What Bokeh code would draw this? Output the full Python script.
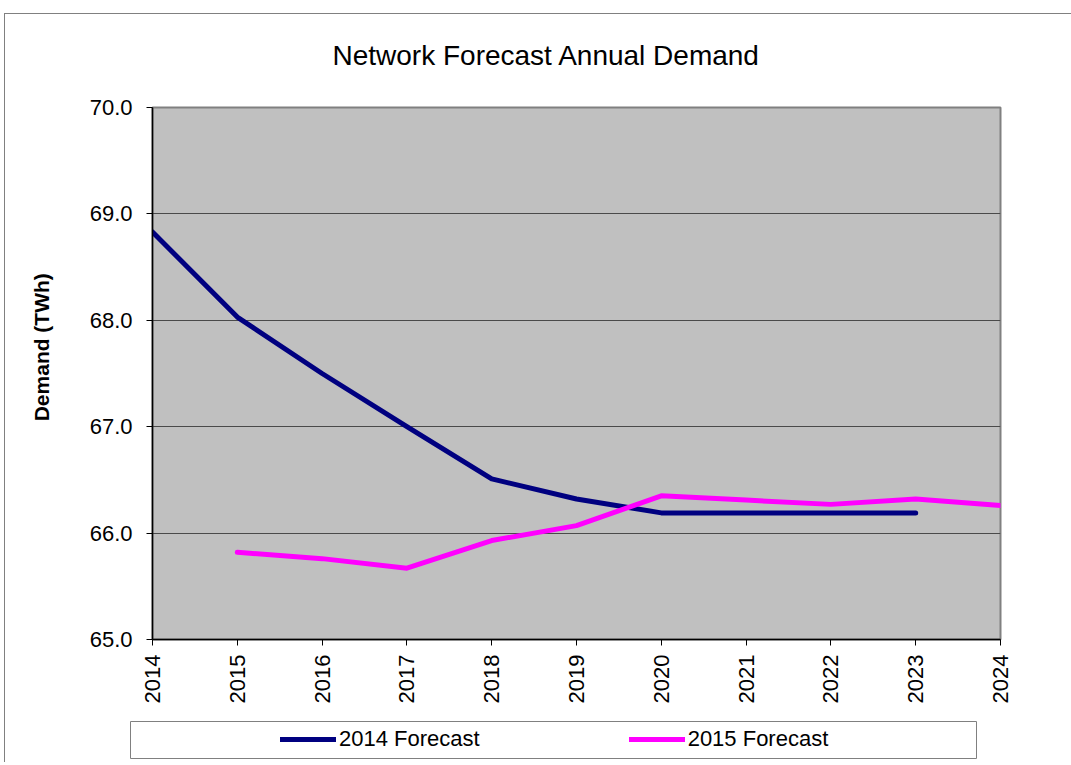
import math
from bokeh.plotting import figure
from bokeh.layouts import column, row
from bokeh.models import (Range1d, FixedTicker, NumeralTickFormatter, Legend,
                          LegendItem)
from bokeh.embed import file_html
from bokeh.resources import INLINE

# ---- data ----
years = [2014, 2015, 2016, 2017, 2018, 2019, 2020, 2021, 2022, 2023, 2024]
year_labels = ["2014", "2015", "2016", "2017", "2018", "2019", "2020",
               "2021", "2022", "2023", "2024"]
years_2014 = [2014, 2015, 2016, 2017, 2018, 2019, 2020, 2021, 2022, 2023]
forecast_2014 = [68.83, 68.03, 67.50, 67.00, 66.51, 66.32, 66.19, 66.19, 66.19, 66.19]
years_2015 = [2015, 2016, 2017, 2018, 2019, 2020, 2021, 2022, 2023, 2024]
forecast_2015 = [65.82, 65.76, 65.67, 65.93, 66.07, 66.35, 66.31, 66.27, 66.32, 66.26]
y_ticks = [65, 66, 67, 68, 69, 70]
series_names = ["2014 Forecast", "2015 Forecast"]
series_colors = ["#000080", "#FF00FF"]
title_text = "Network Forecast Annual Demand"
y_title = "Demand (TWh)"

FONT = "Liberation Sans"
W = 1071

p = figure(output_backend="svg", toolbar_location=None,
           frame_width=848, frame_height=532,
           min_border_left=152, min_border_right=W - 152 - 848,
           min_border_top=107, min_border_bottom=76,
           x_range=Range1d(2014, 2024), y_range=Range1d(65, 70),
           background_fill_color="#C0C0C0", border_fill_color=None)
p.title.text = title_text
p.title.text_font = FONT
p.title.text_font_size = "28px"
p.title.text_font_style = "normal"
p.title.text_color = "black"
p.title.align = "left"
p.title.offset = 180
p.title.standoff = 73

p.outline_line_color = "#808080"
p.outline_line_width = 2

# axes
p.xaxis.ticker = FixedTicker(ticks=years)
p.xaxis.major_label_overrides = {y: l for y, l in zip(years, year_labels)}
p.xaxis.major_label_orientation = math.pi / 2
p.yaxis.ticker = FixedTicker(ticks=y_ticks)
p.yaxis.formatter = NumeralTickFormatter(format="0.0")
for ax in (p.xaxis, p.yaxis):
    ax.axis_line_color = "black"
    ax.axis_line_width = 1.5
    ax.major_tick_line_color = "black"
    ax.major_tick_in = 0
    ax.major_tick_out = 6
    ax.minor_tick_line_color = None
    ax.major_label_text_font = FONT
    ax.major_label_text_font_size = "22px"
    ax.major_label_text_color = "black"
p.xaxis.major_label_standoff = 9
p.yaxis.major_label_standoff = 14
# leading no-break spaces shift the (bottom-to-top) title up to match the reference
p.yaxis.axis_label = "\u00a0" * 9 + y_title
p.yaxis.axis_label_text_font = FONT
p.yaxis.axis_label_text_font_size = "21px"
p.yaxis.axis_label_text_font_style = "bold"
p.yaxis.axis_label_text_color = "black"
p.yaxis.axis_label_standoff = 34

p.xgrid.grid_line_color = None
p.ygrid.ticker = FixedTicker(ticks=y_ticks)
p.ygrid.grid_line_color = "#4a4a4a"
p.ygrid.grid_line_width = 1

# lines
p.line(years_2014, forecast_2014, line_color=series_colors[0], line_width=5,
       line_join="round", line_cap="round")
p.line(years_2015, forecast_2015, line_color=series_colors[1], line_width=5,
       line_join="round", line_cap="round")

# legend strip (its frame is the legend box)
lg = figure(output_backend="svg", toolbar_location=None,
            x_axis_location=None, y_axis_location=None,
            frame_width=846, frame_height=37,
            min_border_left=130, min_border_right=W - 130 - 846,
            min_border_top=6, min_border_bottom=4,
            x_range=Range1d(0, 1), y_range=Range1d(0, 1),
            background_fill_color="white", border_fill_color=None)
lg.grid.visible = False
lg.outline_line_color = "#808080"
lg.outline_line_width = 1
nan = float("nan")
proxies = [lg.line([nan], [nan], line_color=c, line_width=5, line_cap="round")
           for c in series_colors]
leg = Legend(items=[LegendItem(label=n, renderers=[r])
                    for n, r in zip(series_names, proxies)],
             location=(150, 6), orientation="horizontal",
             padding=0, margin=0, spacing=149, glyph_width=56, glyph_height=10,
             label_standoff=3, label_text_font=FONT, label_text_font_size="22px",
             label_text_color="black",
             border_line_color=None, background_fill_alpha=0.0)
lg.add_layout(leg, "center")

# outer chart-area border (top and left edges visible in the reference)
chart_bg = ("linear-gradient(#808080, #808080) 4px 13px / 100% 1px no-repeat, "
            "linear-gradient(#808080, #808080) 4px 13px / 1px 100% no-repeat, "
            "white")
layout = column(p, row(lg), spacing=0, styles={"background": chart_bg})
open("out.html", "w").write(file_html(layout, INLINE))
